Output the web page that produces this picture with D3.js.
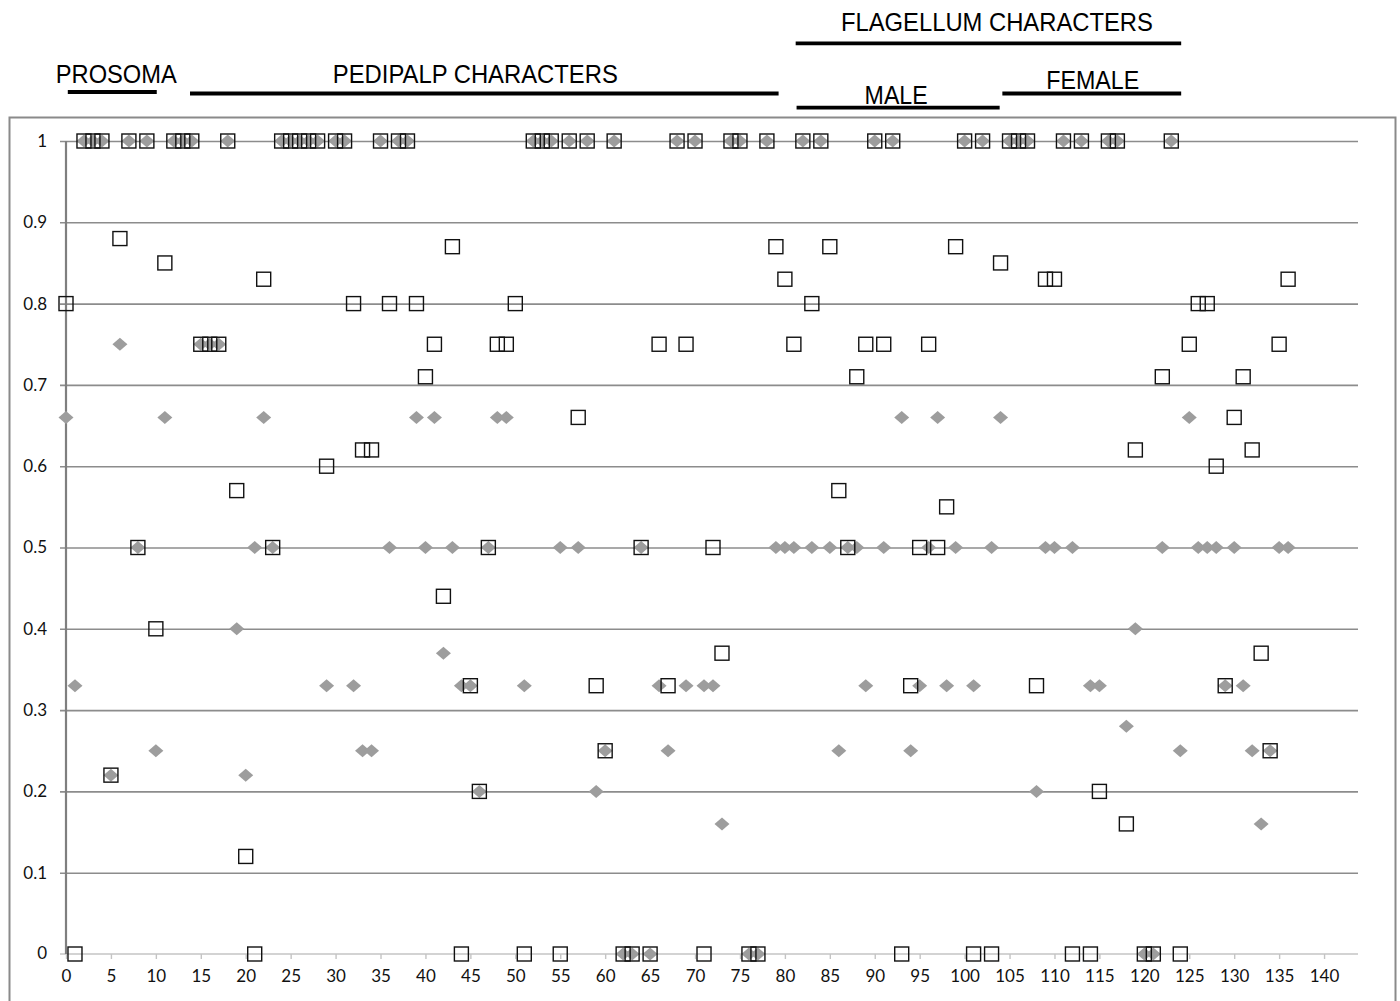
<!DOCTYPE html>
<html>
<head>
<meta charset="utf-8">
<script src="https://cdn.jsdelivr.net/npm/d3@7"></script>
<style>
  body { margin: 0; background: #fff; }
  svg { display: block; }
</style>
</head>
<body>
<div id="chart"></div>
<script>
  // character values, index = character number
  const squareVals = [
    0.8, 0, 1, 1, 1, 0.22, 0.88, 1, 0.5, 1,
    0.4, 0.85, 1, 1, 1, 0.75, 0.75, 0.75, 1, 0.57,
    0.12, 0, 0.83, 0.5, 1, 1, 1, 1, 1, 0.6,
    1, 1, 0.8, 0.62, 0.62, 1, 0.8, 1, 1, 0.8,
    0.71, 0.75, 0.44, 0.87, 0, 0.33, 0.2, 0.5, 0.75, 0.75,
    0.8, 0, 1, 1, 1, 0, 1, 0.66, 1, 0.33,
    0.25, 1, 0, 0, 0.5, 0, 0.75, 0.33, 1, 0.75,
    1, 0, 0.5, 0.37, 1, 1, 0, 0, 1, 0.87,
    0.83, 0.75, 1, 0.8, 1, 0.87, 0.57, 0.5, 0.71, 0.75,
    1, 0.75, 1, 0, 0.33, 0.5, 0.75, 0.5, 0.55, 0.87,
    1, 0, 1, 0, 0.85, 1, 1, 1, 0.33, 0.83,
    0.83, 1, 0, 1, 0, 0.2, 1, 1, 0.16, 0.62,
    0, 0, 0.71, 1, 0, 0.75, 0.8, 0.8, 0.6, 0.33,
    0.66, 0.71, 0.62, 0.37, 0.25, 0.75, 0.83
  ];
  const diamondVals = [
    0.66, 0.33, 1, 1, 1, 0.22, 0.75, 1, 0.5, 1,
    0.25, 0.66, 1, 1, 1, 0.75, 0.75, 0.75, 1, 0.4,
    0.22, 0.5, 0.66, 0.5, 1, 1, 1, 1, 1, 0.33,
    1, 1, 0.33, 0.25, 0.25, 1, 0.5, 1, 1, 0.66,
    0.5, 0.66, 0.37, 0.5, 0.33, 0.33, 0.2, 0.5, 0.66, 0.66,
    null, 0.33, 1, 1, 1, 0.5, 1, 0.5, 1, 0.2,
    0.25, 1, 0, 0, 0.5, 0, 0.33, 0.25, 1, 0.33,
    1, 0.33, 0.33, 0.16, 1, 1, 0, 0, 1, 0.5,
    0.5, 0.5, 1, 0.5, 1, 0.5, 0.25, 0.5, 0.5, 0.33,
    1, 0.5, 1, 0.66, 0.25, 0.33, 0.5, 0.66, 0.33, 0.5,
    1, 0.33, 1, 0.5, 0.66, 1, 1, 1, 0.2, 0.5,
    0.5, 1, 0.5, 1, 0.33, 0.33, 1, 1, 0.28, 0.4,
    0, 0, 0.5, 1, 0.25, 0.66, 0.5, 0.5, 0.5, 0.33,
    0.5, 0.33, 0.25, 0.16, 0.25, 0.5, 0.5
  ];
  const xTickVals = [0, 5, 10, 15, 20, 25, 30, 35, 40, 45, 50, 55, 60, 65, 70,
    75, 80, 85, 90, 95, 100, 105, 110, 115, 120, 125, 130, 135, 140];
  const yTickVals = [0, 0.1, 0.2, 0.3, 0.4, 0.5, 0.6, 0.7, 0.8, 0.9, 1];
  const yTickLabels = ["0", "0.1", "0.2", "0.3", "0.4", "0.5", "0.6", "0.7", "0.8", "0.9", "1"];

  // character groups (ranges in character numbers)
  const groupNames = ["PROSOMA", "PEDIPALP CHARACTERS", "FLAGELLUM CHARACTERS", "MALE", "FEMALE"];
  const groupFrom = [0.2, 13.8, 81.2, 81.3, 104.2];
  const groupTo = [10.1, 79.3, 124.1, 103.9, 124.1];

  const W = 1400, H = 1001;
  const svg = d3.select("#chart").append("svg")
    .attr("width", W).attr("height", H);

  const x = d3.scaleLinear().domain([0, 144]).range([66, 1360]);
  const y = d3.scaleLinear().domain([0, 1]).range([954, 141]);

  // outer frame
  svg.append("rect")
    .attr("x", 9.5).attr("y", 117.5)
    .attr("width", 1386).attr("height", 900)
    .attr("fill", "none").attr("stroke", "#8a8a8a").attr("stroke-width", 2);

  // gridlines + y labels
  const yAxis = d3.axisLeft(y)
    .tickValues(yTickVals.filter(v => v > 0))
    .tickSize(-(x(144) - 2 - 60))
    .tickPadding(13)
    .tickFormat(d => yTickLabels[yTickVals.indexOf(d)]);
  const gy = svg.append("g").attr("transform", "translate(60,0)").call(yAxis);
  gy.select(".domain").remove();
  gy.selectAll(".tick line").attr("stroke", "#8c8c8c").attr("stroke-width", 1.6);

  // x axis
  const xAxis = d3.axisBottom(x).tickValues(xTickVals).tickSize(5).tickPadding(11)
    .tickFormat(d3.format("d"));
  const gx = svg.append("g").attr("transform", `translate(0,${y(0)})`).call(xAxis);
  gx.select(".domain").attr("d", `M60,0H${x(144) - 2}`).attr("stroke", "#c4c4c4").attr("stroke-width", 1.6);
  gx.selectAll(".tick line").attr("stroke", "#c4c4c4").attr("stroke-width", 1.4);

  // y label for 0
  svg.append("text")
    .attr("x", 47).attr("y", y(0)).attr("dy", "0.32em")
    .attr("text-anchor", "end").text(yTickLabels[0]);

  svg.selectAll(".tick text, text").attr("font-family", "Lato, 'Open Sans', sans-serif")
    .attr("font-size", 17).attr("fill", "#111");

  // y axis line
  svg.append("line")
    .attr("x1", x(0)).attr("x2", x(0)).attr("y1", y(1)).attr("y2", y(0))
    .attr("stroke", "#7f7f7f").attr("stroke-width", 2.2);

  // diamonds
  const diamondPts = diamondVals.map((v, i) => ({ i, v })).filter(d => d.v !== null);
  svg.append("g").selectAll("path").data(diamondPts).join("path")
    .attr("d", d => {
      const cx = x(d.i), cy = y(d.v);
      return `M${cx - 7.5},${cy}L${cx},${cy - 6.5}L${cx + 7.5},${cy}L${cx},${cy + 6.5}Z`;
    })
    .attr("fill", "#9d9d9d");

  // squares
  const squarePts = squareVals.map((v, i) => ({ i, v }));
  svg.append("g").selectAll("rect").data(squarePts).join("rect")
    .attr("x", d => x(d.i) - 7)
    .attr("y", d => y(d.v) - 7)
    .attr("width", 14).attr("height", 14)
    .attr("fill", "none").attr("stroke", "#111").attr("stroke-width", 1.4);

  // group headers
  const lineY = [92, 93.5, 43.3, 107.7, 93.5];
  const textY = [83, 83, 31, 104, 89];
  const textW = [121, 285, 312, 63, 93];
  const textShift = [4, -9, 8.5, -2, 1];
  const head = svg.append("g");
  groupNames.forEach((name, k) => {
    head.append("line")
      .attr("x1", x(groupFrom[k])).attr("x2", x(groupTo[k]))
      .attr("y1", lineY[k]).attr("y2", lineY[k])
      .attr("stroke", "#000").attr("stroke-width", 3.8);
    head.append("text")
      .attr("x", (x(groupFrom[k]) + x(groupTo[k])) / 2 + textShift[k])
      .attr("y", textY[k])
      .attr("text-anchor", "middle")
      .attr("font-family", "'Liberation Sans', Arial, sans-serif")
      .attr("font-size", 26)
      .attr("textLength", textW[k])
      .attr("lengthAdjust", "spacingAndGlyphs")
      .attr("fill", "#000")
      .text(name);
  });
</script>
</body>
</html>
